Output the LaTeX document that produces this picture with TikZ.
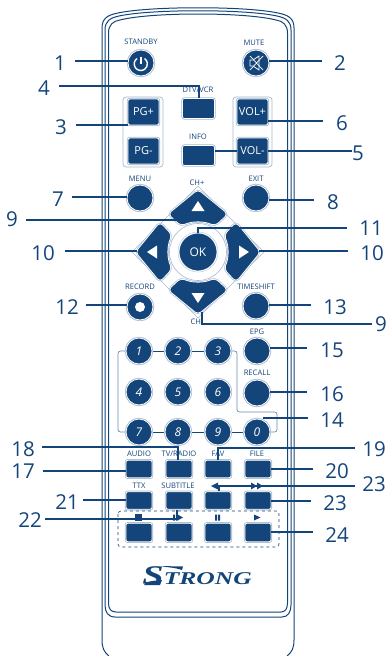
\documentclass[tikz,border=0pt]{standalone}
\usepackage{fontspec}
\setmainfont{Open Sans}
\definecolor{navy}{HTML}{14457A}
\definecolor{ring}{HTML}{A6B9CE}
\newfontfamily\logofont{Liberation Serif}
\tikzset{
  x=1pt,y=-1pt,
  leader/.style={draw=navy,line width=1.25pt},
  shell/.style={draw=navy,line width=1pt},
  num/.style={text=navy,font=\fontsize{20.5}{20}\selectfont,inner sep=0pt},
  lab/.style={text=navy,font=\fontsize{7.6}{8}\selectfont,inner sep=0pt},
  base/.style={fill=navy,draw=white,line width=.8pt,preaction={draw=ring,line width=2.4pt},inner sep=0pt},
  cbtn/.style={base,circle,minimum size=26pt,text=white,font=\fontsize{12}{12}\selectfont\itshape},
  rbtn/.style={base,rectangle,rounded corners=2pt,text=white,font=\fontsize{11}{11}\selectfont},
  wide/.style={rbtn,minimum width=31pt,minimum height=26pt},
  key/.style={rbtn,minimum width=26pt,minimum height=17.5pt},
  info/.style={rbtn,minimum width=32pt,minimum height=20pt},
  grp/.style={draw=ring,line width=.7pt,rounded corners=3pt},
  thin/.style={draw=navy,line width=.7pt},
  thinl/.style={draw=ring!60!navy,line width=.7pt,rounded corners=2.5pt},
  padbtn/.style={fill=navy,draw=white,line width=.8pt,preaction={draw=ring,line width=2pt},rounded corners=4pt},
  glyph/.style={fill=navy,draw=none},
}
\newcommand{\padkey}[1]{%
  \begin{scope}[shift={(198,252)},rotate=#1]
    \path[padbtn] (0,-62.5) -- (30,-38) -- (17,-26) .. controls (6,-31) and (-6,-31) .. (-17,-26) -- (-30,-38) -- cycle;
    \fill[white] (0,-51) -- (6.5,-41) -- (-6.5,-41) -- cycle;
  \end{scope}}
\begin{document}
\begin{tikzpicture}
\useasboundingbox (0,0) rectangle (391,656);
% shell
\draw[shell] (109,656) .. controls (104,652) and (102,648) .. (102,640) -- (102,28) .. controls (102,18) and (108,15) .. (118,13) .. controls (150,6) and (246,6) .. (278,13) .. controls (288,15) and (294,18) .. (294,28) -- (294,640) .. controls (294,648) and (292,652) .. (287,656);
\draw[shell] (105,605) .. controls (105,612) and (108,617) .. (115,617) -- (282,617) .. controls (288,617) and (291,612) .. (291,605) -- (291,30) .. controls (291,21) and (286,18) .. (277,16) .. controls (245,9) and (151,9) .. (119,16) .. controls (110,18) and (105,21) .. (105,30) -- cycle;
\draw[shell] (108.5,603) .. controls (108.5,609) and (111,612) .. (116,612) -- (281,612) .. controls (285,612) and (287.5,609) .. (287.5,603) -- (287.5,33) .. controls (287.5,25) and (283,21) .. (276,20) .. controls (245,12) and (151,12) .. (120,20) .. controls (113,21) and (108.5,25) .. (108.5,33) -- cycle;

% groups
\draw[grp] (123,97) rectangle (163,167);
\draw[grp] (233,97) rectangle (272,167);

% labels
\node[lab] (lstandby) at (141,42) {STANDBY};
\node[lab] (lmute) at (254,43) {MUTE};
\node[lab] (ldtv) at (198,89.5) {DTV/VCR};
\node[lab] (linfo) at (198,137) {INFO};
\node[lab] (lmenu) at (140,178.5) {MENU};
\node[lab] (lexit) at (256,178.5) {EXIT};
\node[lab] (lchp) at (197,183) {CH+};
\node[lab] (lrecord) at (140,287) {RECORD};
\node[lab] (ltime) at (256,287) {TIMESHIFT};
\node[lab] (lchm) at (197,322) {CH-};
\node[lab] (lepg) at (257,331.5) {EPG};
\node[lab] (lrecall) at (257,373) {RECALL};
\node[lab] (laudio) at (139,453.5) {AUDIO};
\node[lab] (ltv) at (179,453.5) {TV/RADIO};
\node[lab] (lfav) at (218,453.5) {FAV};
\node[lab] (lfile) at (257,453.5) {FILE};
\node[lab] (lttx) at (139,486) {TTX};
\node[lab] (lsub) at (178,486) {SUBTITLE};

% top buttons
\node[cbtn] (standby) at (141,63) {};
\draw[white,line width=1.4pt] (141,56.5) -- (141,63.5);
\draw[white,line width=1.4pt] (137,58.5) arc[start angle=125,end angle=415,radius=6.6pt];
\node[cbtn] (mute) at (256,63) {};
\draw[white,line width=.7pt] (250,60) -- (253,60) -- (259,56) -- (259,70) -- (253,66) -- (250,66) -- cycle;
\draw[white,line width=.7pt] (250,56) -- (263,70) (263,56) -- (250,70);

\node[wide] (pgup) at (143.5,112) {PG+};
\node[wide] (pgdn) at (143.5,151) {PG-};
\node[wide] (volup) at (252.5,112) {VOL+};
\node[wide] (voldn) at (252.5,151) {VOL-};
\node[info] (dtv) at (198.5,108.5) {};
\node[info] (infob) at (198.5,155.5) {};
\node[cbtn] (menu) at (140,198) {};
\node[cbtn] (exit) at (256,198) {};

% direction pad
\draw[ring,line width=.6pt] (198,186) -- (264,252) -- (198,318) -- (132,252) -- cycle;
\fill[white] (198,252) circle[radius=35pt];
\padkey{0}\padkey{90}\padkey{180}\padkey{270}
\coordinate (upkey) at (198,217);
\coordinate (leftkey) at (137,251);
\coordinate (rightkey) at (259,251);
\coordinate (downkey) at (202,312);
\draw[ring,line width=.6pt] (198,252) circle[radius=28.5pt];
\node[base,circle,minimum size=38pt,text=white,font=\fontsize{12}{12}\selectfont,preaction={draw=white,line width=1.6pt}] (ok) at (198,252) {OK};

\node[cbtn] (record) at (140,307) {};
\fill[white] (140,307) circle[radius=5pt];
\node[cbtn] (timeshift) at (256,306) {};
\node[cbtn] (epg) at (257,351) {};
\node[cbtn] (recall) at (257,393) {};

% digit links
\coordinate (la) at (118,351);
\coordinate (lb) at (118,432);
\coordinate (ra) at (237,351);
\coordinate (rb) at (237,412);
\coordinate (rc) at (277,412);
\coordinate (rd) at (277,432);
\draw[thinl] (139,351) -- (la) -- (lb) -- (139,432);
\draw[thinl] (218,351) -- (ra) -- (rb) -- (rc) -- (rd) -- (257,432);
\draw[thin] (139,351) -- (218,351);
\draw[thin] (139,432) -- (257,432);

\node[cbtn] (d1) at (139,351) {1};
\node[cbtn] (d2) at (178,351) {2};
\node[cbtn] (d3) at (218,351) {3};
\node[cbtn] (d4) at (139,392) {4};
\node[cbtn] (d5) at (178,392) {5};
\node[cbtn] (d6) at (218,392) {6};
\node[cbtn] (d7) at (139,432) {7};
\node[cbtn] (d8) at (178,432) {8};
\node[cbtn] (d9) at (218,432) {9};
\node[cbtn] (d0) at (257,432) {0};

% key rows
\node[key] (audio) at (139,469) {};
\node[key] (tvradio) at (179,469) {};
\node[key] (fav) at (218,469) {};
\node[key] (file) at (258,469) {};
\node[key] (ttx) at (139,500.5) {};
\node[key] (subtitle) at (179,500.5) {};
\node[key] (rew) at (218,500.5) {};
\node[key] (ffw) at (258,500.5) {};
\node[key,minimum height=18.5pt] (stopk) at (139,532.5) {};
\node[key,minimum height=18.5pt] (pausek) at (179,532.5) {};
\node[key,minimum height=18.5pt] (pause2k) at (218,532.5) {};
\node[key,minimum height=18.5pt] (playk) at (258,532.5) {};
\draw[navy,line width=.6pt,dashed,rounded corners=3pt] (118,511) rectangle (279,547);

% tape symbols
\fill[glyph] (211,486) -- (218,482.5) -- (218,489.5) -- cycle;
\fill[glyph] (251,482.5) -- (257,486) -- (251,489.5) -- cycle (257,482.5) -- (263,486) -- (257,489.5) -- cycle;
\fill[glyph] (135,514) rectangle (142,520.5);
\fill[glyph] (173,514.5) rectangle (174.8,520.5) (175.8,514.5) rectangle (177.6,520.5) (177.6,514.5) -- (183,517.5) -- (177.6,520.5) -- cycle;
\fill[glyph] (215,514.5) rectangle (217,520.5) (218.2,514.5) rectangle (220.2,520.5);
\fill[glyph] (254,514.5) -- (260.5,517.5) -- (254,520.5) -- cycle;

% logo
\node[inner sep=0pt,text=navy,anchor=base east] (logo) at (252,584) {\logofont\bfseries\itshape\fontsize{18}{18}\selectfont\scalebox{1.42}[1]{\raisebox{-.5pt}{\fontsize{27}{27}\selectfont S}TRONG}};
\fill[navy] (144,585) .. controls (146,581) and (152,581) .. (162,580) -- (160,585) -- cycle;
\fill[navy] (160,566) -- (183,566.5) -- (182,570) .. controls (175,567.5) and (168,567.5) .. (160,566) -- cycle;

% leader free ends
\coordinate (c1) at (75,61);
\coordinate (c2) at (322,61);
\coordinate (c4) at (59,86);
\coordinate (c4b) at (199,86);
\coordinate (c3) at (76,125);
\coordinate (c6) at (323,121);
\coordinate (c5) at (352,151);
\coordinate (c7) at (72,197);
\coordinate (c8) at (314,200);
\coordinate (c9) at (26,220);
\coordinate (c9b) at (198,220);
\coordinate (c11) at (347,228);
\coordinate (c11b) at (198,228);
\coordinate (c10) at (65,251);
\coordinate (c10r) at (348,251);
\coordinate (c12) at (86,305);
\coordinate (c13) at (311,305);
\coordinate (c9r) at (372,324);
\coordinate (c9c) at (202,324);
\coordinate (c15) at (307,348);
\coordinate (c16) at (307,392);
\coordinate (c14) at (308,418);
\coordinate (c14b) at (263,418);
\coordinate (c19) at (355,448);
\coordinate (c19b) at (218,448);
\coordinate (c18) at (42,447);
\coordinate (c18b) at (178,447);
\coordinate (c17) at (43,471);
\coordinate (c20) at (313,469);
\coordinate (c21) at (83,500);
\coordinate (c22) at (45,519);
\coordinate (c22b) at (177,519);
\coordinate (c23) at (355,486);
\coordinate (c23b) at (219,486);
\coordinate (c23c) at (311,501);
\coordinate (c24) at (313,532);

% leaders
\draw[leader] (c1) -- (c1 -| standby.west);
\draw[leader] (c2) -- (c2 -| mute.east);
\draw[leader] (c4) -- (c4b) -- (c4b |- dtv.north);
\draw[leader] (c3) -- (c3 -| pgup.west);
\draw[leader] (c6) -- (c6 -| volup.east);
\draw[leader] (c5) -- (c5 -| voldn.east);
\draw[leader] (infob.east |- c5) -- (voldn.west |- c5);
\draw[leader] (c7) -- (c7 -| menu.west);
\draw[leader] (c8) -- (c8 -| exit.east);
\draw[leader] (c9) -- (c9b) -- (upkey);
\draw[leader] (c11) -- (c11b) -- (c11b |- ok.north);
\draw[leader] (c10) -- (leftkey);
\draw[leader] (c10r) -- (rightkey);
\draw[leader] (c12) -- (c12 -| record.west);
\draw[leader] (c13) -- (c13 -| timeshift.east);
\draw[leader] (c9r) -- (c9c) -- (downkey);
\draw[leader] (c15) -- (c15 -| epg.east);
\draw[leader] (c16) -- (c16 -| recall.east);
\draw[leader] (c14) -- (c14b);
\draw[leader] (c19) -- (c19b) -- (c19b |- fav.north);
\draw[leader] (c18) -- (c18b) -- (c18b |- tvradio.north);
\draw[leader] (c17) -- (c17 -| audio.west);
\draw[leader] (c20) -- (c20 -| file.east);
\draw[leader] (c21) -- (c21 -| ttx.west);
\draw[leader] (c22) -- (c22b) -- (c22b |- subtitle.south);
\draw[leader] (c23) -- (c23b) -- (c23b |- rew.north);
\draw[leader] (c23c) -- (c23c -| ffw.east);
\draw[leader] (c24) -- (c24 -| playk.east);

% numbers
\node[num] (n1) at (60,63) {1};
\node[num] (n2) at (340,63) {2};
\node[num] (n3) at (61,127) {3};
\node[num] (n4) at (44,88) {4};
\node[num] (n5) at (358,153) {5};
\node[num] (n6) at (342,123) {6};
\node[num] (n7) at (58,199) {7};
\node[num] (n8) at (333,202) {8};
\node[num] (n9) at (12,219) {9};
\node[num] (n10) at (43,253) {10};
\node[num] (n11) at (371,228) {11};
\node[num] (n10r) at (372,253) {10};
\node[num] (n12) at (67,307) {12};
\node[num] (n13) at (335,307) {13};
\node[num] (n9r) at (381,324) {9};
\node[num] (n15) at (332,350) {15};
\node[num] (n16) at (332,394) {16};
\node[num] (n14) at (332,420) {14};
\node[num] (n18) at (23,449) {18};
\node[num] (n19) at (374,449) {19};
\node[num] (n17) at (23,471) {17};
\node[num] (n20) at (337,471) {20};
\node[num] (n21) at (67,502) {21};
\node[num] (n22) at (30,520) {22};
\node[num] (n23) at (374,484) {23};
\node[num] (n23c) at (335,503) {23};
\node[num] (n24) at (337,535) {24};
\end{tikzpicture}
\end{document}
